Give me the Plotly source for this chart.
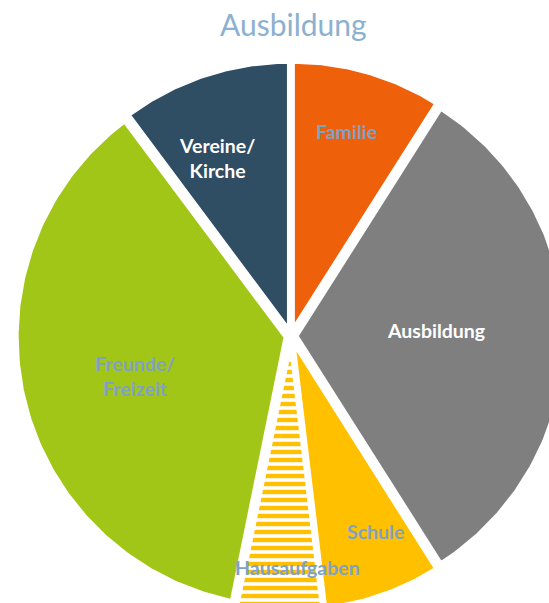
import numpy as np
import plotly.graph_objects as go

# Slice data (share of time, in percent), clockwise from 12 o'clock
categories = ["Familie", "Ausbildung", "Schule", "Hausaufgaben", "Freunde/Freizeit", "Vereine/Kirche"]
values = [9.0, 32.0, 7.1, 5.1, 36.6, 10.2]
label_texts = ["Familie", "Ausbildung", "Schule", "Hausaufgaben", "Freunde/<br>Freizeit", "Vereine/<br>Kirche"]
slice_colors = ["#EF600B", "#7F7F7F", "#FFC000", "#FFFFFF", "#A2C617", "#2F4D63"]
label_colors = ["#7FA2C4", "#FFFFFF", "#7FA2C4", "#7FA2C4", "#7FA2C4", "#FFFFFF"]

# Canvas / pie geometry (pixels)
W, H = 549, 603
CX, CY, R = 291.0, 336.0, 270.0
PULL = 5.0 / R          # small explosion of every slice
BORDER = 5              # white separator width

# label centres in pixels
label_px = [(346, 131), (436, 330), (375, 531), (297, 567), (135, 376), (217, 158)]


def to_unit(px, py):
    return (px - CX) / R, (CY - py) / R


fig = go.Figure()

total = float(sum(values))
start = 0.0
for i, (name, v) in enumerate(zip(categories, values)):
    span = 360.0 * v / total
    a0, a1 = np.radians(start), np.radians(start + span)
    mid = (a0 + a1) / 2
    ox, oy = PULL * np.sin(mid), PULL * np.cos(mid)
    t = np.linspace(a0, a1, 240)
    xs = np.concatenate([[ox], ox + np.sin(t), [ox]])
    ys = np.concatenate([[oy], oy + np.cos(t), [oy]])
    trace = dict(
        x=xs, y=ys, mode="lines", fill="toself", name=name,
        fillcolor=slice_colors[i],
        line=dict(color="white", width=BORDER),
        hoverinfo="skip", showlegend=False,
    )
    if name == "Hausaufgaben":
        trace["fillpattern"] = dict(shape="-", fgcolor="#FFC000", bgcolor="#FFFFFF",
                                    fgopacity=1, fillmode="replace",
                                    size=8, solidity=0.55)
    fig.add_trace(go.Scatter(**trace))
    start += span

for txt, col, (px, py) in zip(label_texts, label_colors, label_px):
    lx, ly = to_unit(px, py)
    fig.add_annotation(x=lx, y=ly, text=f"<b>{txt}</b>", showarrow=False,
                       font=dict(family="Lato", size=19.5, color=col),
                       xanchor="center", yanchor="middle")

tx, ty = to_unit(293, 24)
fig.add_annotation(x=tx, y=ty, text="Ausbildung", showarrow=False,
                   font=dict(family="Lato", size=30, color="#8CB0CF"),
                   xanchor="center", yanchor="middle")

x0, _ = to_unit(0, 0)
x1, _ = to_unit(W, 0)
_, y0 = to_unit(0, H)
_, y1 = to_unit(0, 0)

fig.update_layout(
    width=W, height=H,
    margin=dict(l=0, r=0, t=0, b=0),
    paper_bgcolor="white", plot_bgcolor="white",
    xaxis=dict(range=[x0, x1], visible=False, fixedrange=True),
    yaxis=dict(range=[y0, y1], visible=False, fixedrange=True),
)

fig.write_html("out.html", config={"displayModeBar": False})
